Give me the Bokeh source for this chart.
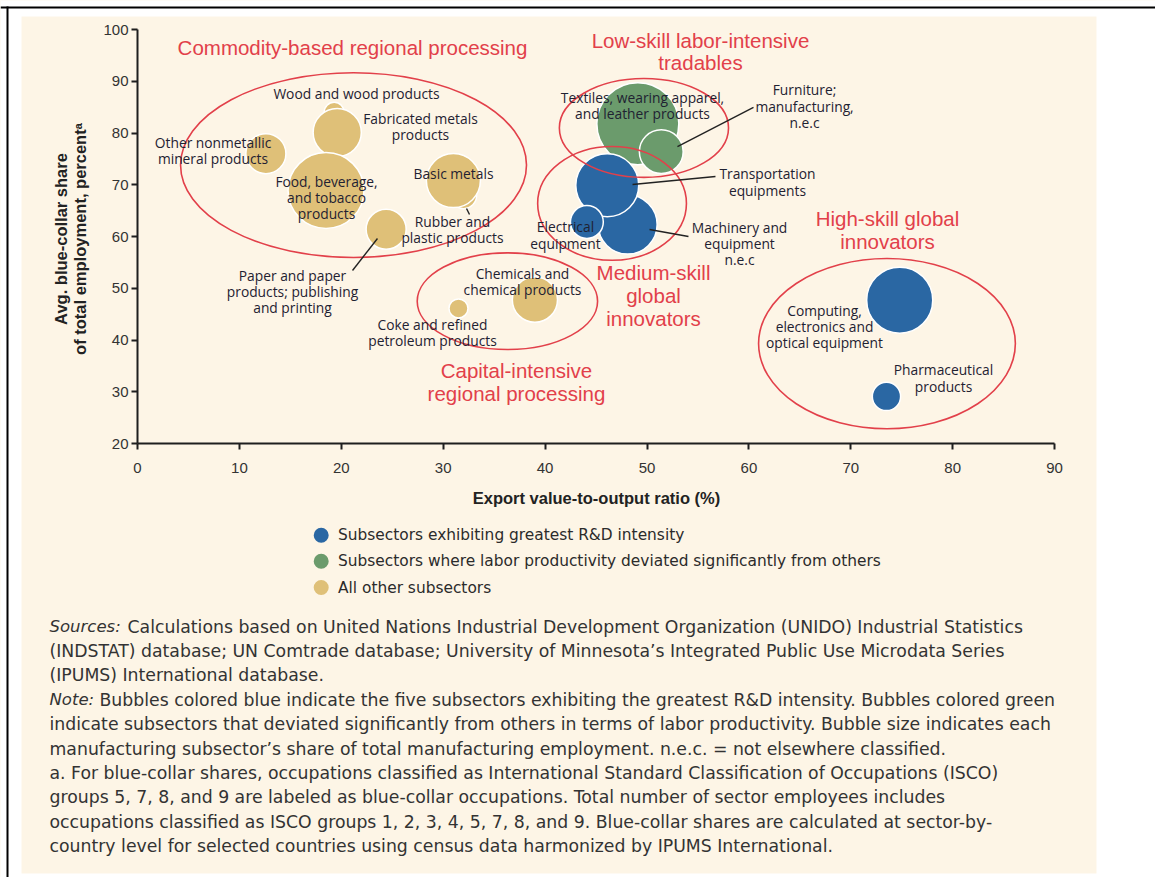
import math
from bokeh.plotting import figure
from bokeh.models import (ColumnDataSource, Range1d, Label, BoxAnnotation, FixedTicker,
                          LinearAxis)
from bokeh.core.properties import value
from bokeh.embed import file_html
from bokeh.resources import INLINE

# ---------------- data ----------------
subsectors = [
    "Wood and wood products", "Fabricated metals products", "Other nonmetallic mineral products",
    "Food, beverage, and tobacco products", "Paper and paper products; publishing and printing",
    "Rubber and plastic products", "Basic metals", "Coke and refined petroleum products",
    "Chemicals and chemical products",
    "Textiles, wearing apparel, and leather products", "Furniture; manufacturing, n.e.c",
    "Machinery and equipment n.e.c", "Transportation equipments", "Electrical equipment",
    "Computing, electronics and optical equipment", "Pharmaceutical products",
]
export_ratio = [19.3, 19.6, 12.6, 18.5, 24.4, 32.0, 31.0, 31.5, 39.0,
                49.1, 51.4, 48.1, 46.1, 44.1, 74.8, 73.5]
blue_collar = [84.0, 80.1, 76.0, 68.9, 61.4, 67.9, 70.8, 46.1, 47.8,
               81.8, 76.4, 62.3, 69.9, 62.8, 47.7, 29.1]
emp_share = [1.0, 5.8, 4.0, 14.4, 4.0, 1.7, 7.3, 0.9, 5.1,
             16.8, 4.8, 8.7, 9.9, 2.7, 10.9, 2.0]
group = ["other"] * 9 + ["labor"] * 2 + ["rd"] * 5

legend_groups = ["rd", "labor", "other"]
legend_names = {
    "rd": "Subsectors exhibiting greatest R&D intensity",
    "labor": "Subsectors where labor productivity deviated significantly from others",
    "other": "All other subsectors",
}

# bubble labels
label_text = [
    "Wood and wood products", "Fabricated metals\nproducts", "Other nonmetallic\nmineral products",
    "Food, beverage,\nand tobacco\nproducts", "Basic metals", "Rubber and\nplastic products",
    "Paper and paper\nproducts; publishing\nand printing", "Coke and refined\npetroleum products",
    "Chemicals and\nchemical products", "Textiles, wearing apparel,\nand leather products",
    "Furniture;\nmanufacturing,\nn.e.c", "Transportation\nequipments", "Electrical\nequipment",
    "Machinery and\nequipment\nn.e.c", "Computing,\nelectronics and\noptical equipment",
    "Pharmaceutical\nproducts",
]
label_x = [21.49, 27.77, 7.41, 18.55, 31.01, 30.91, 15.21, 28.95, 37.78,
           49.56, 65.46, 61.82, 42.0, 59.08, 67.42, 79.10]
label_y = [87.63, 81.26, 76.62, 67.54, 72.17, 61.35, 49.37, 41.45, 51.30,
           85.31, 85.20, 70.53, 60.29, 58.65, 42.61, 32.66]

# leader lines
leader_x0 = [21.10, 32.29, 60.45, 56.72, 54.07]
leader_y0 = [53.43, 65.41, 84.93, 71.59, 60.00]
leader_x1 = [23.55, 32.58, 52.99, 48.58, 50.25]
leader_y1 = [59.61, 64.25, 77.39, 70.05, 61.35]

# cluster ellipses
cluster_names = ["Commodity-based regional processing", "Low-skill labor-intensive\ntradables",
                 "Medium-skill\nglobal\ninnovators", "Capital-intensive\nregional processing",
                 "High-skill global\ninnovators"]
ell_x = [21.2, 49.7, 46.57, 36.3, 73.55]
ell_y = [73.8, 80.97, 66.4, 47.5, 39.3]
ell_w = [33.95, 16.6, 14.6, 17.7, 25.2]
ell_h = [35.7, 19.1, 22.0, 18.7, 32.9]
cluster_label_x = [21.10, 55.25, 50.64, 37.19, 73.60]
cluster_label_y = [96.52, 95.75, 48.60, 31.88, 61.26]

x_ticks = [0, 10, 20, 30, 40, 50, 60, 70, 80, 90]
y_ticks = [20, 30, 40, 50, 60, 70, 80, 90, 100]
x_title = "Export value-to-output ratio (%)"
y_title = "Avg. blue-collar share\nof total employment, percent\u1d43"

footnote_lines = [
    ("Sources:", "Calculations based on United Nations Industrial Development Organization (UNIDO) Industrial Statistics"),
    ("", "(INDSTAT) database; UN Comtrade database; University of Minnesota\u2019s Integrated Public Use Microdata Series"),
    ("", "(IPUMS) International database."),
    ("Note:", "Bubbles colored blue indicate the five subsectors exhibiting the greatest R&D intensity. Bubbles colored green"),
    ("", "indicate subsectors that deviated significantly from others in terms of labor productivity. Bubble size indicates each"),
    ("", "manufacturing subsector\u2019s share of total manufacturing employment. n.e.c. = not elsewhere classified."),
    ("", "a. For blue-collar shares, occupations classified as International Standard Classification of Occupations (ISCO)"),
    ("", "groups 5, 7, 8, and 9 are labeled as blue-collar occupations. Total number of sector employees includes"),
    ("", "occupations classified as ISCO groups 1, 2, 3, 4, 5, 7, 8, and 9. Blue-collar shares are calculated at sector-by-"),
    ("", "country level for selected countries using census data harmonized by IPUMS International."),
]

# ---------------- styles / layout ----------------
BEIGE = "#fdf5e6"
COLORS = {"rd": "#2a67a3", "labor": "#6b9b6c", "other": "#dfc078"}
RED = "#e2404a"
TXT = "#1f2232"
FONT = "Liberation Sans"
LFONT = "Open Sans"
NFONT = "DejaVu Sans"

W, H = 1155, 877
X0_PX, X_UNIT = 137.0, 10.19     # pixel of x=0 and px per unit
Y20_PX, Y_UNIT = 443.0, 5.175    # pixel of y=20 and px per unit


def px_x(px):
    return (px - X0_PX) / X_UNIT


def px_y(py):
    return 20 + (Y20_PX - py) / Y_UNIT


p = figure(width=W, height=H,
           x_range=Range1d(px_x(0), px_x(W)), y_range=Range1d(px_y(H), px_y(0)),
           output_backend="svg", toolbar_location=None, title=None,
           x_axis_location=None, y_axis_location=None,
           min_border=0, min_border_left=0, min_border_right=0,
           min_border_top=0, min_border_bottom=0,
           background_fill_color=BEIGE, border_fill_color=BEIGE)
p.outline_line_color = None
p.grid.visible = False


def page_box(left, right, top, bottom, color):
    # canvas pixels (top-left origin) -> screen units (bottom-left origin)
    return BoxAnnotation(left=left, right=right, top=H - top, bottom=H - bottom,
                         left_units="screen", right_units="screen",
                         top_units="screen", bottom_units="screen",
                         fill_color=color, fill_alpha=1.0, line_color=None, level="underlay")


for box in [page_box(0, 21, 0, H, "white"), page_box(0, W, 0, 16, "white"),
            page_box(1096, W, 0, H, "white"), page_box(0, W, 873, H, "white"),
            page_box(0, W, 6, 8, "black"), page_box(6, 8, 6, H, "black")]:
    p.add_layout(box)

# bubbles
for g in ["other", "labor", "rd"]:
    idx = [i for i, gg in enumerate(group) if gg == g]
    src = ColumnDataSource(dict(
        x=[export_ratio[i] for i in idx],
        y=[blue_collar[i] for i in idx],
        size=[20 * math.sqrt(emp_share[i]) for i in idx],
        name=[subsectors[i] for i in idx],
    ))
    p.scatter("x", "y", size="size", source=src, marker="circle",
              fill_color=COLORS[g], fill_alpha=1.0, line_color="white", line_width=1.5)

# cluster ellipses
p.ellipse(x=ell_x, y=ell_y, width=ell_w, height=ell_h, fill_color=None,
          line_color=RED, line_width=1.6)

# leader lines
p.segment(x0=leader_x0, y0=leader_y0, x1=leader_x1, y1=leader_y1,
          line_color="#222222", line_width=1.4)

# bubble labels
p.text(x=label_x, y=label_y, text=label_text, text_font=value(LFONT),
       text_font_size=value("13.8px"), text_color=TXT, text_align="center",
       text_baseline="middle", text_line_height=0.86)

# cluster labels
p.text(x=cluster_label_x, y=cluster_label_y, text=cluster_names, text_font=value(FONT),
       text_font_size=value("20.5px"), text_color=RED, text_align="center",
       text_baseline="middle", text_line_height=0.98)

# axes (fixed inside the full-canvas frame)
xaxis = LinearAxis(fixed_location=20, bounds=(0, 90), ticker=FixedTicker(ticks=x_ticks))
yaxis = LinearAxis(fixed_location=0, bounds=(20, 100), ticker=FixedTicker(ticks=y_ticks))
p.add_layout(xaxis, "below")
p.add_layout(yaxis, "left")
for ax in (xaxis, yaxis):
    ax.axis_line_color = "#1e1e1e"
    ax.axis_line_width = 2
    ax.major_tick_line_color = "#1e1e1e"
    ax.major_tick_line_width = 2
    ax.major_tick_out = 6
    ax.major_tick_in = 0
    ax.minor_tick_line_color = None
    ax.major_label_text_font = FONT
    ax.major_label_text_font_size = "15px"
    ax.major_label_text_color = "#333333"
xaxis.major_label_standoff = 13
yaxis.major_label_standoff = 3

# axis titles
p.add_layout(Label(x=596, y=H - 497, x_units="screen", y_units="screen", text=x_title,
                   text_font=FONT, text_font_size="16.5px", text_font_style="bold",
                   text_color="#222222", text_align="center", text_baseline="middle"))
p.add_layout(Label(x=70, y=H - 238.5, x_units="screen", y_units="screen", text=y_title,
                   angle=90, angle_units="deg",
                   text_font=FONT, text_font_size="16.5px", text_font_style="bold",
                   text_color="#222222", text_align="center", text_baseline="middle",
                   text_line_height=1.1))

# legend (swatches + texts below the axes)
LEG_ROWS_PX = [534.7, 560.7, 587.0]
p.scatter(x=[px_x(320.7)] * 3, y=[px_y(v) for v in LEG_ROWS_PX], size=15, marker="circle",
          fill_color=[COLORS[g] for g in legend_groups], line_color=None)
p.text(x=[px_x(337.5)] * 3, y=[px_y(v) for v in LEG_ROWS_PX],
       text=[legend_names[g] for g in legend_groups], text_font=value(NFONT),
       text_font_size=value("15.4px"), text_color="#2b2b2b", text_align="left",
       text_baseline="middle")

# footnotes
for k, (lead, rest) in enumerate(footnote_lines):
    sy = H - (626 + 24.4 * k)
    x0 = 49
    if lead:
        p.add_layout(Label(x=x0, y=sy, x_units="screen", y_units="screen", text=lead,
                           text_font=NFONT, text_font_size="16.5px", text_font_style="italic",
                           text_color="#333333", text_baseline="middle", text_align="left"))
        x0 = 127 if lead == "Sources:" else 99
    p.add_layout(Label(x=x0, y=sy, x_units="screen", y_units="screen", text=rest,
                       text_font=NFONT, text_font_size="17.3px", text_color="#333333",
                       text_baseline="middle", text_align="left"))

open("out.html", "w").write(file_html(p, INLINE))
